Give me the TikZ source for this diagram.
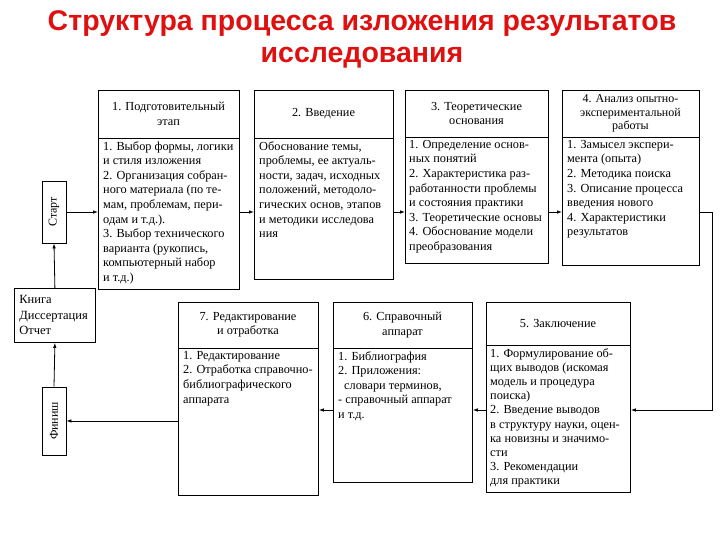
\documentclass[tikz,border=0pt]{standalone}
\usepackage{fontspec}
\usepackage{graphicx}
\setmainfont{Liberation Serif}
\newfontfamily\titlefont{Liberation Sans}
\usetikzlibrary{arrows.meta}
\definecolor{titlered}{RGB}{222,16,16}
\begin{document}
\begin{tikzpicture}[x=1pt,y=-1pt,
  box/.style={draw, line width=0.8pt, anchor=north west, inner sep=0pt},
  hd/.style={align=center, font=\fontsize{12.3}{14.5}\selectfont, inner sep=0pt},
  bd/.style={align=left, anchor=north west, font=\fontsize{12.3}{14.6}\selectfont, inner sep=0pt},
  arr/.style={line width=0.8pt, -{Latex[length=5pt,width=3.5pt]}},
  ln/.style={line width=0.8pt},
  vbox/.style={draw, line width=0.8pt, minimum width=24pt, inner sep=0pt, font=\fontsize{12}{14}\selectfont}]
\useasboundingbox (0,0) rectangle (720,540);

\node[font=\titlefont\bfseries\fontsize{28.5}{32}\selectfont, text=titlered, align=center] (title) at (362,39) {Структура процесса изложения результатов\\исследования};

% top row
\node[box, minimum width=141pt, minimum height=199pt] (b1) at (98,90) {};
\draw[ln] (98,138) -- (239,138);
\node[hd] (b1h) at (168.5,114) {1. Подготовительный\\этап};
\node[bd] (b1b) at (103,141) {1. Выбор формы, логики\\и стиля изложения\\2. Организация собран-\\ного материала (по те-\\мам, проблемам, пери-\\одам и т.д.).\\3. Выбор технического\\варианта (рукопись,\\компьютерный набор\\и т.д.)};

\node[box, minimum width=139pt, minimum height=189pt] (b2) at (254,90) {};
\draw[ln] (254,138) -- (393,138);
\node[hd] (b2h) at (323.5,114) {2. Введение};
\node[bd] (b2b) at (259,141) {Обоснование темы,\\проблемы, ее актуаль-\\ности, задач, исходных\\положений, методоло-\\гических основ, этапов\\и методики исследова\\ния};

\node[box, minimum width=143pt, minimum height=173pt] (b3) at (405,90) {};
\draw[ln] (405,137) -- (548,137);
\node[hd] (b3h) at (476.5,113.5) {3. Теоретические\\основания};
\node[bd] (b3b) at (409,140) {1. Определение основ-\\ных понятий\\2. Характеристика раз-\\работанности проблемы\\и состояния практики\\3. Теоретические основы\\4. Обоснование модели\\преобразования};

\node[box, minimum width=137pt, minimum height=175pt] (b4) at (562,90) {};
\draw[ln] (562,137) -- (699,137);
\node[hd, font=\fontsize{12}{13.5}\selectfont] (b4h) at (630.5,113.5) {4. Анализ опытно-\\экспериментальной\\работы};
\node[bd] (b4b) at (567,140) {1. Замысел экспери-\\мента (опыта)\\2. Методика поиска\\3. Описание процесса\\введения нового\\4. Характеристики\\результатов};

% bottom row
\node[box, minimum width=140pt, minimum height=193pt] (b7) at (178,302) {};
\draw[ln] (178,348) -- (318,348);
\node[hd] (b7h) at (248,325) {7. Редактирование\\и отработка};
\node[bd] (b7b) at (183,351) {1. Редактирование\\2. Отработка справочно-\\библиографического\\аппарата};

\node[box, minimum width=139pt, minimum height=180pt] (b6) at (333,302) {};
\draw[ln] (333,348) -- (472,348);
\node[hd] (b6h) at (402.5,325) {6. Справочный\\аппарат};
\node[bd] (b6b) at (338,351) {1. Библиография\\2. Приложения:\\\hspace*{6pt}словари терминов,\\- справочный аппарат\\и т.д.};

\node[box, minimum width=144pt, minimum height=190pt] (b5) at (486,302) {};
\draw[ln] (486,345) -- (630,345);
\node[hd] (b5h) at (558,323.5) {5. Заключение};
\node[bd, font=\fontsize{12.3}{14.2}\selectfont] (b5b) at (490,348) {1. Формулирование об-\\щих выводов (искомая\\модель и процедура\\поиска)\\2. Введение выводов\\в структуру науки, оцен-\\ка новизны и значимо-\\сти\\3. Рекомендации\\для практики};

% left column
\node[vbox, minimum height=62pt] (start) at (54,212) {\rotatebox{90}{Старт}};
\node[draw, line width=0.8pt, anchor=north west, minimum height=54pt, text width=71pt, inner xsep=5pt, inner ysep=0pt, align=left, font=\fontsize{12.5}{15.5}\selectfont] (kniga) at (14,288) {Книга\\Диссертация\\Отчет};
\node[vbox, minimum height=68pt] (finish) at (54,421) {\rotatebox{90}{Финиш}};

\coordinate (turn) at (712,410);

% connectors
\draw[arr] (start.east) -- (start.east -| b1.west);
\draw[arr] (b1.east |- start.east) -- (b2.west |- start.east);
\draw[arr] (b2.east |- start.east) -- (b3.west |- start.east);
\draw[arr] (b3.east |- start.east) -- (b4.west |- start.east);
\draw[arr] (b4.east |- start.east) -| (turn) -- (b5.east |- turn);
\draw[arr] (b5.west |- turn) -- (b6.east |- turn);
\draw[arr] (b6.west |- turn) -- (b7.east |- turn);
\draw[arr] (b7.west |- finish.east) -- (finish.east);
\draw[arr] (finish.north) -- (kniga.south);
\draw[arr] (kniga.north) -- (start.south);
\end{tikzpicture}
\end{document}
